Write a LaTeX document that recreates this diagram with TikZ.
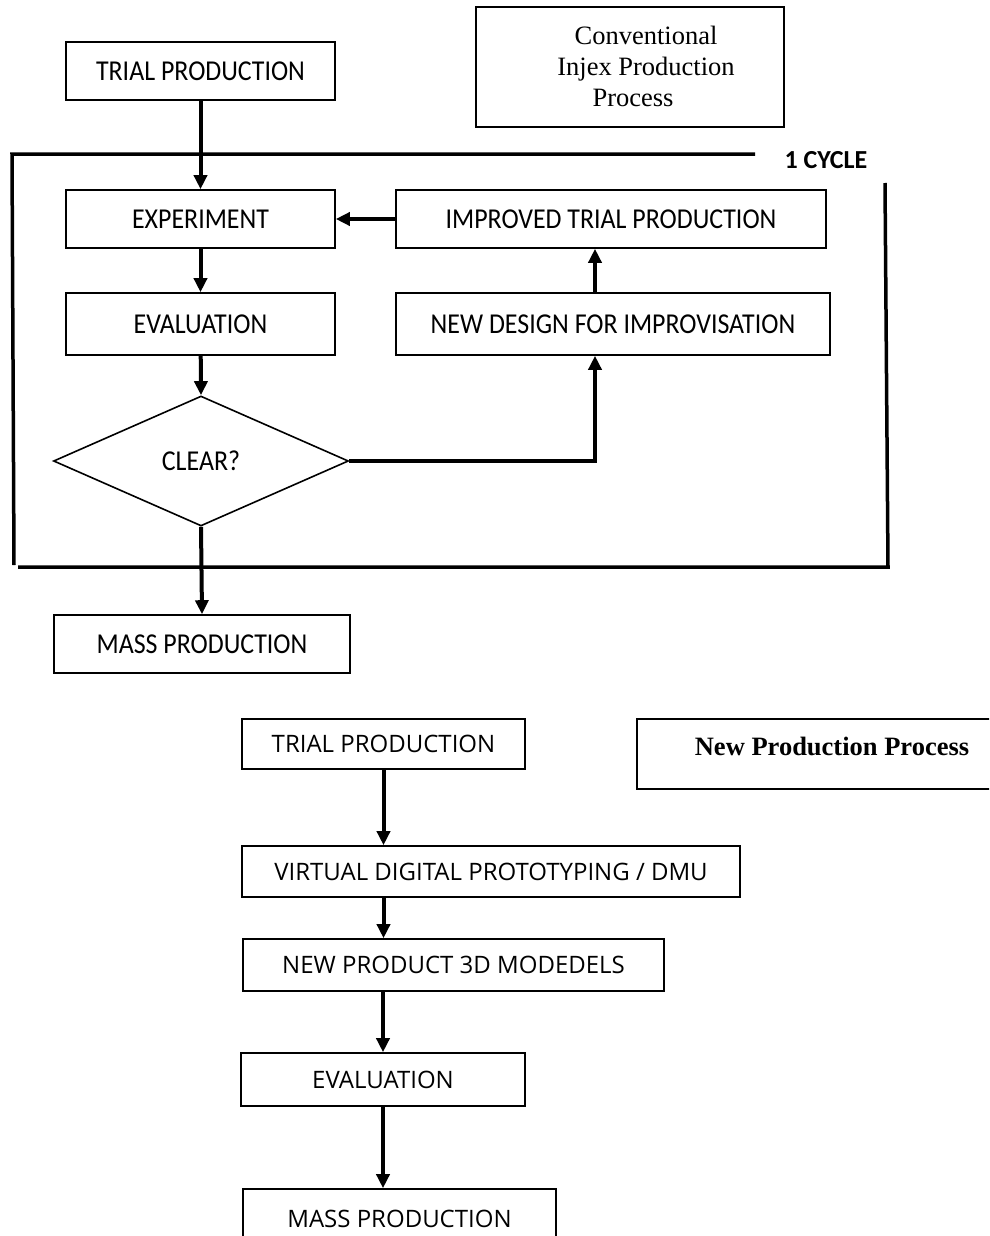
\documentclass[tikz,border=0pt]{standalone}
\usepackage{fontspec}
\setmainfont{Liberation Serif}
\newfontfamily\calfont[FakeStretch=0.9]{Carlito}
\newfontfamily\calbold{Carlito}
\newfontfamily\osfont{Open Sans}
\usetikzlibrary{arrows.meta,shapes.geometric}
\tikzset{
  topbox/.style={draw, line width=1.6pt, inner sep=0pt, font=\calfont\fontsize{28.8}{32}\selectfont},
  botbox/.style={draw, line width=1.6pt, inner sep=0pt, font=\osfont\fontsize{24}{28}\selectfont},
  plain/.style={inner sep=0pt},
  flow/.style={line width=4pt, -{Triangle[width=13pt,length=14pt]}},
  frame/.style={line width=3.5pt},
}
\begin{document}
\begin{tikzpicture}[x=1pt,y=-1pt]
\clip (0,0) rectangle (989,1236);
\fill[white] (0,0) rectangle (989,1236);
% ---------- conventional process ----------
\node[topbox, minimum width=269pt, minimum height=58pt] (tp1) at (200.5,71) {TRIAL PRODUCTION};
\node[draw, line width=1.6pt, minimum width=308pt, minimum height=120pt, inner sep=0pt] (conv) at (630,67) {};
\node[plain, align=center, font=\fontsize{26.5}{31}\selectfont] (convtext) at (646,66) {Conventional\\Injex Production\\Process\hspace*{26pt}};
\node[topbox, minimum width=269pt, minimum height=58pt] (exp) at (200.5,219) {EXPERIMENT};
\node[topbox, minimum width=430pt, minimum height=58pt] (imp) at (611,219) {IMPROVED TRIAL PRODUCTION};
\node[topbox, minimum width=269pt, minimum height=62pt] (eval1) at (200.5,324) {EVALUATION};
\node[topbox, minimum width=434pt, minimum height=62pt] (newd) at (613,324) {NEW DESIGN FOR IMPROVISATION};
\node[topbox, shape=diamond, minimum width=295pt, minimum height=130pt, aspect=2.27] (clear) at (201,461) {CLEAR?};
\node[topbox, minimum width=296pt, minimum height=58pt] (mass1) at (202,644) {MASS PRODUCTION};
\node[plain, font=\calbold\bfseries\fontsize{26}{30}\selectfont] (cycle) at (826,160) {1 CYCLE};
\coordinate (kx) at (595,0);
% cycle frame
\draw[frame] (755,154) -- (12,154) -- (14,565);
\draw[frame] (18,567) -- (888,567) -- (885,183);
% connectors
\draw[flow] (tp1) -- (exp);
\draw[flow] (imp.west) -- (exp.east);
\draw[flow] (exp) -- (eval1);
\draw[flow] (eval1) -- (clear.north);
\draw[flow] (clear.east) -| (newd.south -| kx);
\draw[flow] (newd.north -| kx) -- (imp.south -| kx);
\draw[flow] (clear.south) -- (mass1.north);
% ---------- new process ----------
\node[botbox, minimum width=283pt, minimum height=50pt] (tp2) at (383.5,744) {TRIAL PRODUCTION};
\node[plain, font=\bfseries\fontsize{26.5}{31}\selectfont] (newp) at (832,746) {New Production Process};
\draw[line width=1.6pt] (1000,719) -- (637,719) -- (637,789) -- (1000,789);
\node[botbox, minimum width=498pt, minimum height=51pt] (vdp) at (491,871.5) {VIRTUAL DIGITAL PROTOTYPING / DMU};
\node[botbox, minimum width=421pt, minimum height=52pt] (np3d) at (453.5,965) {NEW PRODUCT 3D MODEDELS};
\node[botbox, minimum width=284pt, minimum height=53pt] (eval2) at (383,1079.5) {EVALUATION};
\node[botbox, minimum width=313pt, minimum height=60pt] (mass2) at (399.5,1219) {MASS PRODUCTION};
\draw[flow] (tp2.south) -- (tp2.south |- vdp.north);
\draw[flow] (vdp.south -| tp2) -- (np3d.north -| tp2);
\draw[flow] (np3d.south -| eval2) -- (eval2.north);
\draw[flow] (eval2.south) -- (eval2.south |- mass2.north);
\end{tikzpicture}
\end{document}
